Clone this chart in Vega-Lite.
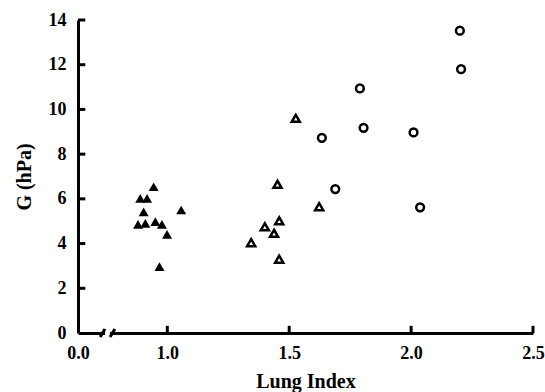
{
  "$schema": "https://vega.github.io/schema/vega-lite/v6.json",
  "width": 455,
  "height": 313,
  "autosize": "none",
  "padding": {"left": 78, "top": 20, "right": 12, "bottom": 59},
  "background": "white",
  "config": {
    "view": {"stroke": null},
    "axis": {
      "grid": false,
      "ticks": false,
      "domainColor": "#000000",
      "domainWidth": 3,
      "labelFont": "Liberation Serif",
      "labelFontWeight": "bold",
      "labelFontSize": 18,
      "labelColor": "#000000",
      "titleFont": "Liberation Serif",
      "titleFontWeight": "bold",
      "titleFontSize": 20,
      "titleColor": "#000000",
      "labelFlush": false,
      "labelOverlap": false
    }
  },
  "datasets": {
    "points": [
      {"group": "A", "index": 0.944, "g": 6.54},
      {"group": "A", "index": 0.889, "g": 6.02},
      {"group": "A", "index": 0.917, "g": 6.02},
      {"group": "A", "index": 0.903, "g": 5.42},
      {"group": "A", "index": 0.880, "g": 4.86},
      {"group": "A", "index": 0.910, "g": 4.90},
      {"group": "A", "index": 0.951, "g": 4.98},
      {"group": "A", "index": 0.978, "g": 4.86},
      {"group": "A", "index": 0.999, "g": 4.41},
      {"group": "A", "index": 1.057, "g": 5.50},
      {"group": "A", "index": 0.968, "g": 2.97},
      {"group": "B", "index": 1.527, "g": 9.6},
      {"group": "B", "index": 1.452, "g": 6.65},
      {"group": "B", "index": 1.623, "g": 5.65},
      {"group": "B", "index": 1.400, "g": 4.75},
      {"group": "B", "index": 1.459, "g": 5.02},
      {"group": "B", "index": 1.438, "g": 4.46},
      {"group": "B", "index": 1.344, "g": 4.04},
      {"group": "B", "index": 1.459, "g": 3.3},
      {"group": "C", "index": 2.200, "g": 13.52},
      {"group": "C", "index": 2.205, "g": 11.8},
      {"group": "C", "index": 1.790, "g": 10.94},
      {"group": "C", "index": 1.634, "g": 8.73},
      {"group": "C", "index": 1.805, "g": 9.18},
      {"group": "C", "index": 2.010, "g": 8.97},
      {"group": "C", "index": 1.689, "g": 6.44},
      {"group": "C", "index": 2.037, "g": 5.62}
    ],
    "gap": [{"a": 0.1, "b": 0.765, "lo": -0.3, "hi": 0.3}],
    "segments": [
      {"a": 0.082, "b": 0.1, "lo": -0.18, "hi": 0.18},
      {"a": 0.765, "b": 0.785, "lo": -0.18, "hi": 0.18},
      {"a": 1, "b": 1, "lo": 0, "hi": 0.32},
      {"a": 1.5, "b": 1.5, "lo": 0, "hi": 0.32},
      {"a": 2, "b": 2, "lo": 0, "hi": 0.32},
      {"a": 2.5, "b": 2.5, "lo": 0, "hi": 0.32},
      {"a": 0, "b": 0.027, "lo": 2, "hi": 2},
      {"a": 0, "b": 0.027, "lo": 4, "hi": 4},
      {"a": 0, "b": 0.027, "lo": 6, "hi": 6},
      {"a": 0, "b": 0.027, "lo": 8, "hi": 8},
      {"a": 0, "b": 0.027, "lo": 10, "hi": 10},
      {"a": 0, "b": 0.027, "lo": 12, "hi": 12},
      {"a": 0, "b": 0.027, "lo": 14, "hi": 14}
    ]
  },
  "layer": [
    {
      "data": {"name": "points"},
      "transform": [{"filter": "datum.group === 'A'"}],
      "mark": {"type": "point", "shape": "triangle-up", "filled": true, "color": "black", "size": 100, "opacity": 1},
      "encoding": {
        "x": {"field": "index", "type": "quantitative", "title": "Lung Index",
          "scale": {"domain": [0, 0.1, 0.765, 2.5], "range": [0, 27, 32, 455], "nice": false, "zero": false},
          "axis": {"values": [0, 1, 1.5, 2, 2.5], "format": ".1f", "labelPadding": 11, "titlePadding": 9}},
        "y": {"field": "g", "type": "quantitative", "title": "G (hPa)",
          "scale": {"domain": [0, 14], "nice": false},
          "axis": {"values": [0, 2, 4, 6, 8, 10, 12, 14], "labelPadding": 12, "titlePadding": 14}}
      }
    },
    {
      "data": {"name": "points"},
      "transform": [{"filter": "datum.group === 'B'"}],
      "mark": {"type": "point", "shape": "triangle-up", "filled": false, "color": "black", "strokeWidth": 2.5, "size": 65, "opacity": 1},
      "encoding": {
        "x": {"field": "index", "type": "quantitative"},
        "y": {"field": "g", "type": "quantitative"}
      }
    },
    {
      "data": {"name": "points"},
      "transform": [{"filter": "datum.group === 'C'"}],
      "mark": {"type": "point", "shape": "circle", "filled": false, "color": "black", "strokeWidth": 2.5, "size": 60, "opacity": 1},
      "encoding": {
        "x": {"field": "index", "type": "quantitative"},
        "y": {"field": "g", "type": "quantitative"}
      }
    },
    {
      "data": {"name": "gap"},
      "mark": {"type": "rect", "color": "white"},
      "encoding": {
        "x": {"field": "a", "type": "quantitative"},
        "x2": {"field": "b"},
        "y": {"field": "lo", "type": "quantitative"},
        "y2": {"field": "hi"}
      }
    },
    {
      "data": {"name": "segments"},
      "mark": {"type": "rule", "color": "black", "strokeWidth": 3},
      "encoding": {
        "x": {"field": "a", "type": "quantitative"},
        "x2": {"field": "b"},
        "y": {"field": "lo", "type": "quantitative"},
        "y2": {"field": "hi"}
      }
    }
  ]
}
